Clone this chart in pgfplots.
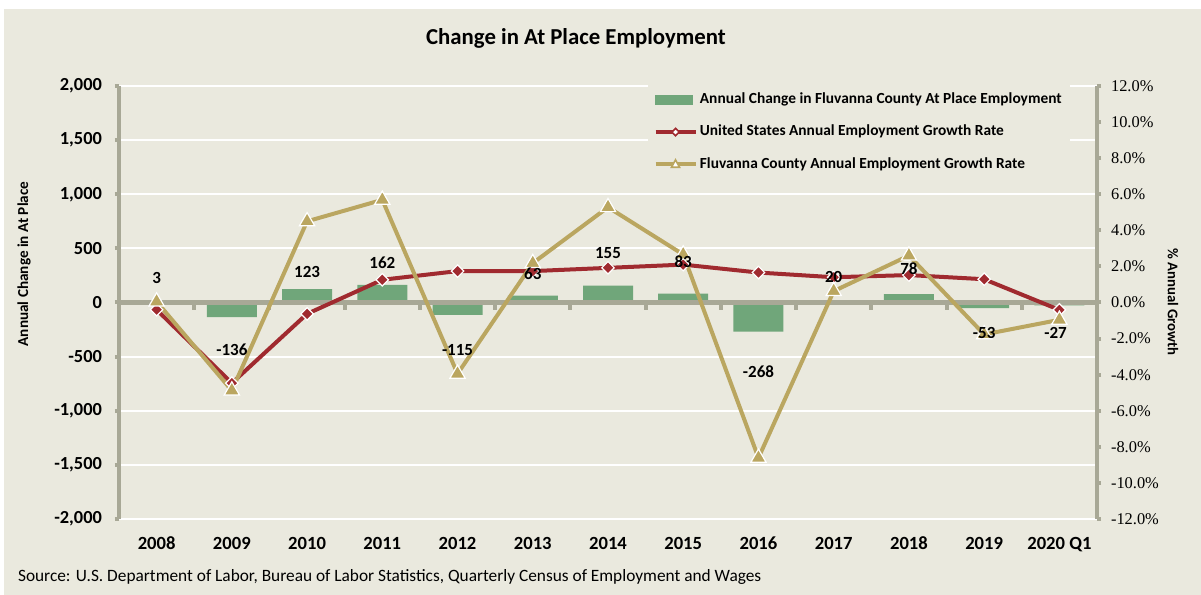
\documentclass[border=0pt]{standalone}
\usepackage{pgfplots}
\pgfplotsset{compat=1.18}
\usepackage{fontspec}
\setmainfont{Carlito}
\newfontfamily\rfont{Liberation Serif}

\definecolor{bg}{RGB}{234,233,222}
\definecolor{axisgrey}{RGB}{168,168,150}
\definecolor{barg}{RGB}{112,166,122}
\definecolor{usred}{RGB}{160,42,47}
\definecolor{gold}{RGB}{186,166,96}

\pgfplotsset{
  common/.style={
    at={(59.5pt,38pt)}, anchor=south west, scale only axis,
    width=489pt, height=216.5pt, xmin=-0.5, xmax=12.5,
    tick align=outside, major tick length=2pt,
  },
}
\tikzset{lbl/.style={font=\bfseries\fontsize{8.5}{9}\selectfont, inner sep=1pt}}

\begin{document}
\begin{tikzpicture}
\useasboundingbox (0,0) rectangle (600.5pt,297.5pt);
\fill[white] (0,0) rectangle (600.5pt,297.5pt);
\fill[bg] (2pt,0) rectangle (600.5pt,293pt);

% left axis: annual change (bars)
\begin{axis}[common,
  ymin=-2000, ymax=2000,
  axis y line*=left, axis x line*=bottom,
  x axis line style={draw=none},
  y axis line style={axisgrey, line width=2pt},
  xtick={0,...,12},
  xticklabels={2008,2009,2010,2011,2012,2013,2014,2015,2016,2017,2018,2019,2020 Q1},
  xtick style={draw=none},
  xticklabel style={font=\bfseries\fontsize{9.3}{10}\selectfont, yshift=-3.5pt},
  ytick={-2000,-1500,...,2000},
  yticklabels={{-2,000},{-1,500},{-1,000},-500,0,500,{1,000},{1,500},{2,000}},
  ytick style={axisgrey, line width=2pt},
  yticklabel style={font=\bfseries\fontsize{9.2}{10}\selectfont, xshift=-3pt},
  ymajorgrids, grid style={white, line width=1pt},
]
\addplot[ybar, bar width=25pt, fill=barg, draw=none] coordinates {
  (0,3) (1,-136) (2,123) (3,162) (4,-115) (5,63) (6,155)
  (7,83) (8,-268) (9,20) (10,78) (11,-53) (12,-27)};
\pgfplotsinvokeforeach{0.5,1.5,2.5,3.5,4.5,5.5,6.5,7.5,8.5,9.5,10.5,11.5}{
  \draw[axisgrey, line width=2pt] (axis cs:#1,0) -- (axis cs:#1,-70);
}
\draw[axisgrey, line width=2.2pt] (axis cs:-0.5,0) -- (axis cs:12.5,0);
\end{axis}

% right axis: growth rates (lines)
\begin{axis}[common,
  ymin=-12, ymax=12,
  axis y line*=right, axis x line=none,
  y axis line style={axisgrey, line width=2pt},
  ytick={-12,-10,...,12},
  yticklabels={-12.0\%,-10.0\%,-8.0\%,-6.0\%,-4.0\%,-2.0\%,0.0\%,2.0\%,4.0\%,6.0\%,8.0\%,10.0\%,12.0\%},
  ytick style={axisgrey, line width=2pt},
  yticklabel style={font=\rfont\fontsize{8.2}{9}\selectfont, xshift=1.5pt},
  legend cell align=left,
  legend style={draw=none, fill=bg, at={(axis description cs:0.54,1.008)},
    anchor=north west, font=\bfseries\fontsize{7.7}{9}\selectfont,
    row sep=5.2pt, inner sep=3pt, nodes={inner xsep=1.2pt}},
]
\addlegendimage{legend image code/.code={\fill[barg] (0pt,-2.25pt) rectangle (18.5pt,2.25pt);}}
\addlegendimage{legend image code/.code={
  \draw[usred, line width=2pt] (0pt,0pt) -- (20pt,0pt);
  \filldraw[fill=white, draw=usred, line width=0.8pt, rotate around={45:(10pt,0pt)}]
    (8.7pt,-1.3pt) rectangle (11.3pt,1.3pt);}}
\addlegendimage{legend image code/.code={
  \draw[gold, line width=2pt] (0pt,0pt) -- (20pt,0pt);
  \filldraw[fill=white, draw=gold, line width=0.8pt]
    (8pt,-1.5pt) -- (12pt,-1.5pt) -- (10pt,2.2pt) -- cycle;}}

\addplot[forget plot, usred, line width=2pt, mark=square*, mark size=2.2pt,
  mark options={rotate=45, fill=usred, draw=white, line width=0.6pt}] coordinates {
  (0,-0.4) (1,-4.47) (2,-0.63) (3,1.26) (4,1.74) (5,1.74) (6,1.92)
  (7,2.1) (8,1.66) (9,1.4) (10,1.52) (11,1.29) (12,-0.41)};
\addplot[forget plot, gold, line width=2pt, mark=triangle*, mark size=4.4pt,
  mark options={fill=gold, draw=white, line width=0.6pt}] coordinates {
  (0,0.05) (1,-4.88) (2,4.5) (3,5.69) (4,-3.95) (5,2.18) (6,5.28)
  (7,2.66) (8,-8.61) (9,0.63) (10,2.6) (11,-1.77) (12,-0.96)};

\legend{Annual Change in Fluvanna County At Place Employment,
  United States Annual Employment Growth Rate,
  Fluvanna County Annual Employment Growth Rate}
\end{axis}

% data labels of the bars, drawn on top of the lines
\begin{axis}[common, ymin=-2000, ymax=2000, hide axis]
\addplot[only marks, mark=none,
  nodes near coords, point meta=explicit symbolic,
  nodes near coords style={lbl, anchor=center}]
  table[meta=lab] {
  x    y    lab
  0    231  3
  1   -434  -136
  2    286  123
  3    370  162
  4   -443  -115
  5    268  63
  6    453  155
  7    379  83
  8   -637  -268
  9    240  20
  10   314  78
  11  -286  -53
  11.95 -277 -27
};
\end{axis}

\node[font=\bfseries\fontsize{11.4}{13}\selectfont] at (288pt,278.5pt) {Change in At Place Employment};
\node[rotate=90, font=\bfseries\fontsize{7.6}{9}\selectfont] at (12pt,165.5pt) {Annual Change in At Place};
\node[rotate=-90, font=\bfseries\fontsize{7.4}{9}\selectfont] at (586.5pt,146.5pt) {\% Annual Growth};
\node[anchor=west, font=\fontsize{8.66}{10}\selectfont] at (5.5pt,9pt)
  {Source: U.S. Department of Labor, Bureau of Labor Statistics, Quarterly Census of Employment and Wages};
\end{tikzpicture}
\end{document}
